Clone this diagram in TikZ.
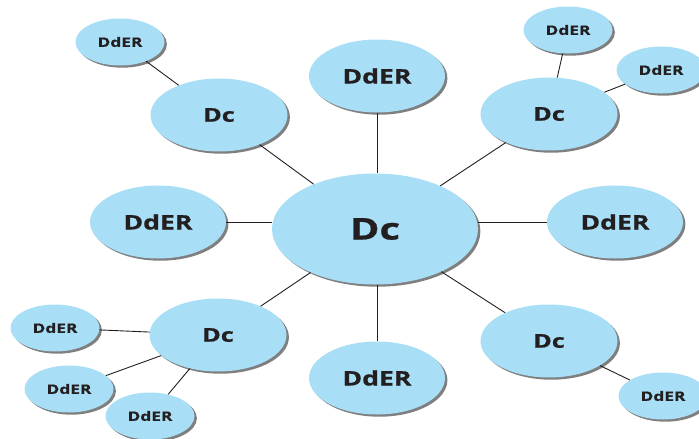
\documentclass[tikz,border=0pt]{standalone}
\usepackage{fontspec}
\setmainfont{Open Sans}[BoldFont={* Bold},BoldFeatures={FakeStretch=1.33,FakeBold=0.8}]
\usetikzlibrary{shapes.geometric,shadows}
\definecolor{bubble}{HTML}{A8DFF7}
\definecolor{shade}{HTML}{7F7F7F}
\definecolor{ink}{HTML}{231F20}
\tikzset{
  bub/.style={ellipse, fill=bubble, inner sep=0pt, text=ink, font=\bfseries,
    drop shadow={shadow xshift=2.4pt, shadow yshift=-2.2pt, fill=shade, opacity=1}},
  big/.style={bub, minimum width=206pt, minimum height=111pt, font=\bfseries\fontsize{30}{30}\selectfont},
  mid/.style={bub, minimum width=136pt, minimum height=73pt, font=\bfseries\fontsize{20}{20}\selectfont},
  midc/.style={bub, minimum width=137pt, minimum height=73pt, font=\bfseries\fontsize{19}{19}\selectfont},
  sml/.style={bub, minimum width=89pt, minimum height=47pt, font=\bfseries\fontsize{13}{13}\selectfont},
  link/.style={draw=ink, line width=0.9pt}
}
\begin{document}
\begin{tikzpicture}[x=1pt,y=-1pt]
\useasboundingbox (0,0) rectangle (699,439);
\clip (0,0) rectangle (699,439);
% main
\node[big] (c) at (375,229) {Dc};
% medium DdER
\node[mid] (t) at (377,76) {DdER};
\node[mid] (b) at (377,378) {DdER};
\node[mid] (l) at (158,222) {DdER};
\node[mid] (r) at (615,222) {DdER};
% medium Dc
\node[midc] (ul) at (219,115) {Dc};
\node[midc] (ur) at (549,114) {Dc};
\node[midc] (ll) at (218,335) {Dc};
\node[midc] (lr) at (549,341) {Dc};
% small
\node[sml] (s1) at (120,42) {DdER};
\node[sml] (s2) at (568,30) {DdER};
\node[sml] (s3) at (661,70) {DdER};
\node[sml] (s4) at (55,328) {DdER};
\node[sml] (s5) at (69,389) {DdER};
\node[sml] (s6) at (150,416) {DdER};
\node[sml] (s7) at (663,396) {DdER};
% connectors
\draw[link] (t) -- (t |- c.north);
\draw[link] (b) -- (b |- c.south);
\draw[link] (l.east) -- (l.east -| c.west);
\draw[link] (r.west) -- (r.west -| c.east);
\draw[link] (c) -- (ul);
\draw[link] (c) -- (ur);
\draw[link] (c) -- (ll);
\draw[link] (c) -- (lr);
\draw[link] (ul) -- (s1);
\draw[link] (ur) -- (s2);
\draw[link] (ur) -- (s3);
\draw[link] (ll) -- (s4);
\draw[link] (ll) -- (s5);
\draw[link] (ll) -- (s6);
\draw[link] (lr) -- (s7);
\end{tikzpicture}
\end{document}
